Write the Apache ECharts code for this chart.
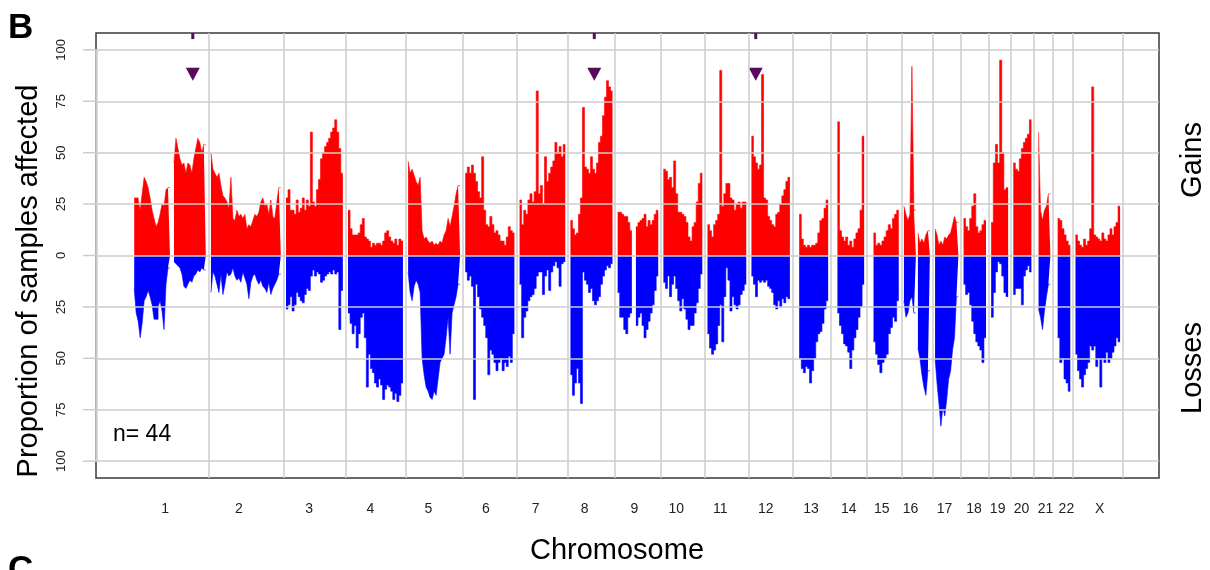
<!DOCTYPE html>
<html>
<head>
<meta charset="utf-8">
<script src="https://cdn.jsdelivr.net/npm/echarts@6/dist/echarts.min.js"></script>
<style>
  html, body { margin: 0; padding: 0; background: #fff; }
  #main { width: 1210px; height: 570px; }
</style>
</head>
<body>
<div id="main"></div>
<script>
// chromosomes and their lengths (Mb)
const chromNames = ['1','2','3','4','5','6','7','8','9','10','11','12','13','14','15','16','17','18','19','20','21','22','X'];
const chromLengthMb = [249.2,243.2,198.0,191.2,180.9,171.1,159.1,146.4,141.2,135.5,135.0,133.9,115.2,107.3,102.5,90.4,81.2,78.1,59.1,63.0,48.1,51.3,155.3];

// % of samples with a gain, one list per chromosome, evenly spaced bins (null = no probes)
const gainPct = [
  [28,28,27,22,30,38,36,33,28,22,18,14,16,20,25,24,32,33,null,null,45,57,52,47,44,45,40,45,44,40,47,52,57,55,50,54],
  [50,42,40,38,40,34,29,28,26,23,38,18,17,22,19,20,18,20,13,15,14,17,20,19,21,26,28,24,25,20,27,19,18,26,33],
  [28,32,22,22,20,27,21,23,28,22,27,24,60,26,24,32,37,47,50,53,55,57,60,62,66,60,52,40],
  [22,13,10,10,10,11,15,18,9,8,7,4,6,5,6,6,5,7,11,12,9,7,6,8,5,8,7],
  [46,40,42,39,36,34,38,12,8,9,7,6,7,5,6,5,7,6,10,12,18,14,19,24,30,34],
  [40,43,40,44,40,36,31,28,48,22,15,14,19,15,11,12,10,7,7,5,9,14,12,11],
  [27,15,22,20,27,30,26,31,80,30,34,25,48,36,40,43,46,55,50,53,48,54],
  [17,13,10,11,20,28,72,43,42,40,48,42,40,45,55,58,68,77,85,82,80],
  [21,21,20,19,19,16,12,null,null,14,16,17,18,20,14,17,15,17,20,22],
  [42,41,37,38,33,46,30,21,21,20,19,16,9,7,14,16,26,35,40],
  [15,12,9,15,17,20,90,24,30,35,35,28,27,22,25,26,23,26,26],
  [58,48,45,42,44,88,28,27,19,17,15,14,20,21,25,29,32,36,38],
  [null,null,20,8,5,4,5,4,5,5,6,11,17,18,23,27],
  [null,null,65,12,9,7,9,5,7,4,8,11,13,22,58],
  [null,null,11,5,6,5,7,9,12,15,13,18,20,22],
  [24,20,17,20,92,22,null,11,6,8,6,10,12],
  [13,10,5,7,5,9,8,10,11,15,19,16],
  [18,14,12,18,24,30,14,11,12,15,17],
  [16,45,54,45,95,50,32,33],
  [45,42,41,47,52,55,57,59,66],
  [null,60,22,17,22,24,30],
  [null,18,17,13,10,7,5],
  [10,7,5,4,8,5,7,13,82,10,9,8,7,11,8,7,10,13,10,14,16,24]
];

// % of samples with a loss, same bins
const lossPct = [
  [16,28,32,40,33,22,20,17,20,24,31,31,25,22,27,36,14,6,null,null,3,4,5,6,9,15,16,14,12,13,10,9,7,8,6,7],
  [18,8,10,14,18,9,19,14,8,10,9,6,10,12,11,13,8,11,14,21,13,10,9,12,14,12,15,16,18,13,19,16,14,12,9],
  [26,24,20,27,24,18,20,22,23,19,16,17,10,7,10,8,9,13,12,10,9,8,9,7,9,8,36,17],
  [28,33,38,34,45,38,30,28,40,64,48,55,57,62,64,60,63,70,65,63,64,66,70,67,71,68,62],
  [8,18,22,15,12,14,18,50,58,64,66,69,70,66,68,60,52,50,48,40,30,48,28,24,20,14],
  [8,12,10,15,70,14,20,26,30,34,40,58,46,48,52,56,52,50,56,52,54,49,52,38],
  [14,40,30,27,22,20,19,16,10,8,8,19,10,7,17,8,5,3,6,15,4,3],
  [58,68,62,55,62,72,8,12,14,18,16,22,24,22,20,14,10,7,5,6,4],
  [18,30,30,36,38,30,28,null,null,34,30,28,34,40,36,32,28,24,17,10],
  [13,16,10,20,14,10,16,22,27,21,26,31,36,34,34,28,23,16,9],
  [38,45,48,46,43,34,24,42,20,6,12,27,20,24,26,24,19,17,14],
  [10,14,20,12,13,12,13,12,15,16,18,24,26,22,25,21,23,20,21],
  [null,null,50,55,57,54,55,62,56,50,42,38,37,33,26,22],
  [null,null,28,34,38,43,44,47,55,46,40,36,30,25,14],
  [null,null,42,48,53,57,52,50,48,38,35,30,32,22],
  [22,30,28,22,20,28,null,45,50,58,64,68,56],
  [50,62,72,83,74,78,70,60,56,46,40,20],
  [14,19,18,24,32,38,42,44,46,52,40],
  [30,18,8,3,4,10,18,20],
  [19,16,16,16,24,10,7,5,8],
  [null,26,30,36,27,20,14],
  [null,40,52,50,60,62,66],
  [48,56,60,64,58,55,52,44,46,44,54,50,64,50,52,47,52,50,47,44,40,42]
];

// chromosome label offsets from the middle of each block (Mb)
const labelShiftMb = [-17,-24,-18,-18,-20,-14,-24,-24,-12,-23,-23,-17,-2,0,-8,-22,-8,-3,-7,-3,7,12,7];
const yTicks = [-100,-75,-50,-25,0,25,50,75,100];

// purple markers: chromosome and position (Mb)
const markerChrom = ['1','8','12'];
const markerPosMb = [204, 83, 15];

const GAP = 18;
const spanStart = [];
let acc = 0;
chromLengthMb.forEach(L => { spanStart.push(acc); acc += L + GAP; });
const totalSpan = acc;

function profile(lists, sign) {
  const out = [];
  lists.forEach((vals, c) => {
    const s = spanStart[c] + GAP / 2;
    const w = chromLengthMb[c] / vals.length;
    vals.forEach((v, i) => {
      const x0 = s + i * w, x1 = x0 + w;
      if (v == null) { out.push([x0, '-']); return; }
      out.push([x0, sign * v], [x1, sign * v]);
    });
    out.push([s + chromLengthMb[c], '-']);
  });
  return out;
}

const labelPos = chromNames.map((n, i) => spanStart[i] + (chromLengthMb[i] + GAP) / 2 + labelShiftMb[i]);
const boundaries = chromNames.map((n, i) => spanStart[i] + chromLengthMb[i] + GAP);
const markerX = markerChrom.map((c, i) => spanStart[chromNames.indexOf(c)] + GAP / 2 + markerPosMb[i]);

const FONT = 'Liberation Sans, Arial, Helvetica, sans-serif';
const GRID_COLOR = '#cccccc';
const X_MIN = -124, X_MAX = totalSpan + 126.5;

const option = {
  animation: false,
  backgroundColor: '#fff',
  grid: { left: 96, right: 51, top: 33, bottom: 92, show: true, borderColor: '#3a3a3a', borderWidth: 1.5 },
  xAxis: {
    type: 'value', min: X_MIN, max: X_MAX,
    axisLine: { show: false, onZero: false }, axisTick: { show: false }, splitLine: { show: false },
    axisLabel: {
      customValues: labelPos, margin: 24, fontSize: 14, color: '#222', fontFamily: FONT,
      formatter: v => {
        const i = labelPos.findIndex(p => Math.abs(p - v) < 1e-6);
        return i >= 0 ? chromNames[i] : '';
      }
    }
  },
  yAxis: {
    type: 'value', min: -108.2, max: 108.2,
    axisLine: { show: false, onZero: false },
    axisTick: { show: false },
    splitLine: { show: false },
    axisLabel: {
      customValues: yTicks, rotate: 90, margin: 28, fontSize: 13, color: '#222', fontFamily: FONT,
      formatter: v => String(Math.abs(v))
    }
  },
  series: [
    {
      // grid lines
      type: 'line', data: [], z: 1, silent: true,
      markLine: {
        silent: true, symbol: ['none', 'none'], label: { show: false },
        lineStyle: { color: GRID_COLOR, width: 1.5, type: 'solid' },
        data: yTicks.map(v => ({ yAxis: v }))
          .concat(boundaries.map(b => ({ xAxis: b })))
      }
    },
    {
      // light left edge between -100 and 100
      type: 'line', data: [], z: 5, silent: true,
      markLine: {
        silent: true, symbol: ['none', 'none'], label: { show: false },
        lineStyle: { color: GRID_COLOR, width: 2.5, type: 'solid' },
        data: [[{ coord: [X_MIN, -100] }, { coord: [X_MIN, 100] }]]
      }
    },
    {
      name: 'Gains', type: 'line', data: profile(gainPct, 1), z: 3,
      symbol: 'none', connectNulls: false, silent: true,
      lineStyle: { color: '#ff0000', width: 0.6 },
      areaStyle: { color: '#ff0000', opacity: 1 }
    },
    {
      name: 'Losses', type: 'line', data: profile(lossPct, -1), z: 3,
      symbol: 'none', connectNulls: false, silent: true,
      lineStyle: { color: '#0000ff', width: 0.6 },
      areaStyle: { color: '#0000ff', opacity: 1 }
    },
    {
      type: 'scatter', z: 4, silent: true, clip: false,
      symbol: 'triangle', symbolRotate: 180, symbolSize: [14, 13],
      itemStyle: { color: '#5a0a5a', opacity: 1 },
      data: markerX.map(x => [x, 88.2])
    },
    {
      type: 'scatter', z: 4, silent: true, clip: false,
      symbol: 'rect', symbolSize: [3, 6],
      itemStyle: { color: '#5a0a5a', opacity: 1 },
      data: markerX.map(x => [x, 106.7])
    }
  ],
  graphic: [
    { type: 'text', x: 8, y: 28, style: { text: 'B', font: 'bold 35px ' + FONT, fill: '#000', textAlign: 'left', textVerticalAlign: 'middle' } },
    { type: 'text', x: 8, y: 570, style: { text: 'C', font: 'bold 35px ' + FONT, fill: '#000', textAlign: 'left', textVerticalAlign: 'middle' } },
    { type: 'text', x: 29, y: 281, rotation: Math.PI / 2, style: { text: 'Proportion of samples affected', font: '29px ' + FONT, fill: '#000', textAlign: 'center', textVerticalAlign: 'middle' } },
    { type: 'text', x: 1193, y: 160, rotation: Math.PI / 2, style: { text: 'Gains', font: '29px ' + FONT, fill: '#000', textAlign: 'center', textVerticalAlign: 'middle' } },
    { type: 'text', x: 1193, y: 368, rotation: Math.PI / 2, style: { text: 'Losses', font: '29px ' + FONT, fill: '#000', textAlign: 'center', textVerticalAlign: 'middle' } },
    { type: 'text', x: 617, y: 551, style: { text: 'Chromosome', font: '29px ' + FONT, fill: '#000', textAlign: 'center', textVerticalAlign: 'middle' } },
    { type: 'text', x: 113, y: 435, style: { text: 'n= 44', font: '23px ' + FONT, fill: '#000', textAlign: 'left', textVerticalAlign: 'middle' } }
  ]
};

const chart = echarts.init(document.getElementById('main'), null, { renderer: 'canvas' });
chart.setOption(option);

// short grey ticks left of the frame, placed through the axis scale
const tickLines = yTicks.map(v => {
  const p = chart.convertToPixel({ gridIndex: 0 }, [X_MIN, v]);
  return { type: 'line', silent: true, shape: { x1: p[0] - 13, y1: p[1], x2: p[0], y2: p[1] }, style: { stroke: GRID_COLOR, lineWidth: 1.5 } };
});
chart.setOption({ graphic: option.graphic.concat(tickLines) });
</script>
</body>
</html>
